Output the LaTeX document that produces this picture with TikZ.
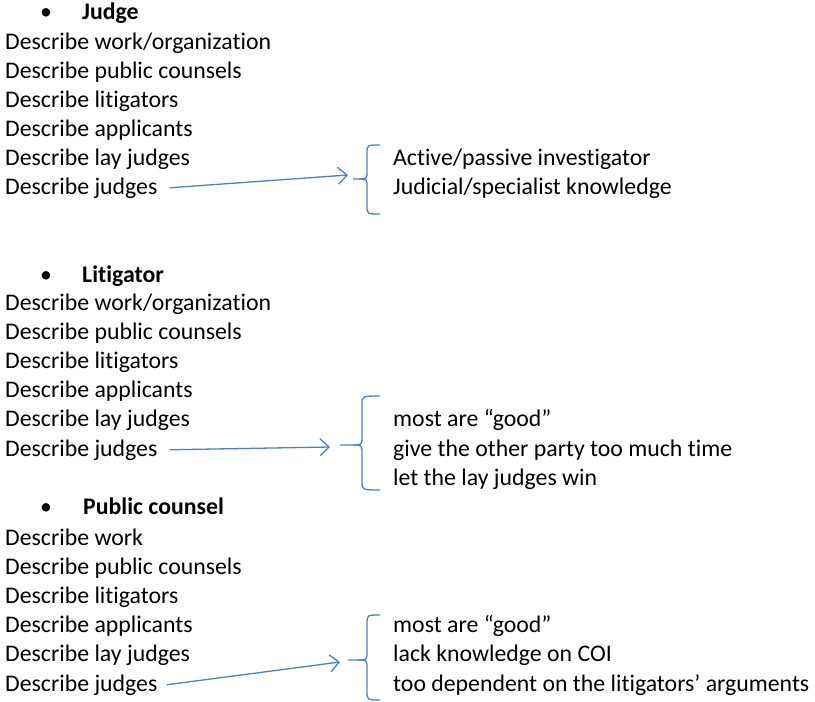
\documentclass[tikz,border=0pt]{standalone}
\usepackage{fontspec}
\setmainfont{Carlito}[Ligatures=NoCommon]
\usepackage{tikz}
\usetikzlibrary{arrows.meta,positioning}
\definecolor{wordblue}{RGB}{79,129,189}

\begin{document}
\begin{tikzpicture}[x=1pt,y=-1pt,
    item/.style={anchor=base west,inner sep=0pt,font=\fontsize{23.8}{28}\selectfont},
    head/.style={item,font=\fontsize{23.8}{28}\selectfont\bfseries},
    link/.style={wordblue,line width=1.3pt,-{Straight Barb[length=9pt,width=17pt,line width=1.3pt]}},
    curly/.style={wordblue,line width=1.3pt}]

        \useasboundingbox (0,0) rectangle (815,702);

        % Judge
        \node[item] (b1) at (40,19) {\textbullet};
        \node[head] (h1) at (82,19) {Judge};
        \node[item] (j1) at (5,49) {Describe work/organization};
        \node[item] (j2) [below=29pt of j1.base west,anchor=base west] {Describe public counsels};
        \node[item] (j3) [below=29pt of j2.base west,anchor=base west] {Describe litigators};
        \node[item] (j4) [below=29pt of j3.base west,anchor=base west] {Describe applicants};
        \node[item] (j5) [below=29pt of j4.base west,anchor=base west] {Describe lay judges};
        \node[item] (j6) [below=29pt of j5.base west,anchor=base west] {Describe judges};
        \node[item] (r11) at (393,0 |- j5.base) {Active/passive investigator};
        \node[item] (r12) at (393,0 |- j6.base) {Judicial/specialist knowledge};

        \draw[curly] (380,145) .. controls (367,145) .. (367,153) -- (367,171)
            .. controls (367,179) .. (359,179) -- (353,179);
        \draw[curly] (380,214) .. controls (367,214) .. (367,206) -- (367,187)
            .. controls (367,179) .. (359,179);
        \coordinate (a1) at (348,175);
        \draw[link] ([xshift=12pt]j6.east) -- (a1);

        % Litigator
        \node[item] (b2) at (40,282) {\textbullet};
        \node[head] (h2) at (82,282) {Litigator};
        \node[item] (l1) at (5,310) {Describe work/organization};
        \node[item] (l2) [below=29.2pt of l1.base west,anchor=base west] {Describe public counsels};
        \node[item] (l3) [below=29.2pt of l2.base west,anchor=base west] {Describe litigators};
        \node[item] (l4) [below=29.2pt of l3.base west,anchor=base west] {Describe applicants};
        \node[item] (l5) [below=29.2pt of l4.base west,anchor=base west] {Describe lay judges};
        \node[item] (l6) [below=29.2pt of l5.base west,anchor=base west] {Describe judges};
        \node[item] (r21) at (393,0 |- l5.base) {most are “good”};
        \node[item] (r22) at (393,0 |- l6.base) {give the other party too much time};
        \node[item] (r23) [below=29.2pt of r22.base west,anchor=base west] {let the lay judges win};

        \draw[curly] (380,396) .. controls (362,396) .. (362,405) -- (362,436)
            .. controls (362,445) .. (353,445) -- (340,445);
        \draw[curly] (380,490) .. controls (362,490) .. (362,481) -- (362,454)
            .. controls (362,445) .. (353,445);
        \coordinate (a2) at (330,447);
        \draw[link] ([xshift=12pt]l6.east) -- (a2);

        % Public counsel
        \node[item] (b3) at (40,514) {\textbullet};
        \node[head] (h3) at (83,514) {Public counsel};
        \node[item] (p1) at (5,545) {Describe work};
        \node[item] (p2) [below=29.2pt of p1.base west,anchor=base west] {Describe public counsels};
        \node[item] (p3) [below=29.2pt of p2.base west,anchor=base west] {Describe litigators};
        \node[item] (p4) [below=29.2pt of p3.base west,anchor=base west] {Describe applicants};
        \node[item] (p5) [below=29.2pt of p4.base west,anchor=base west] {Describe lay judges};
        \node[item] (p6) [below=29.2pt of p5.base west,anchor=base west] {Describe judges};
        \node[item] (r31) at (393,0 |- p4.base) {most are “good”};
        \node[item] (r32) at (393,0 |- p5.base) {lack knowledge on COI};
        \node[item] (r33) at (393,0 |- p6.base) {too dependent on the litigators’ arguments};

        \draw[curly] (380,615) .. controls (367,615) .. (367,624) -- (367,651)
            .. controls (367,660) .. (358,660) -- (348,660);
        \draw[curly] (380,700) .. controls (367,700) .. (367,691) -- (367,669)
            .. controls (367,660) .. (358,660);
        \coordinate (a3) at (340,662);
        \draw[link] ([xshift=9pt]p6.east) -- (a3);

    \end{tikzpicture}
\end{document}
